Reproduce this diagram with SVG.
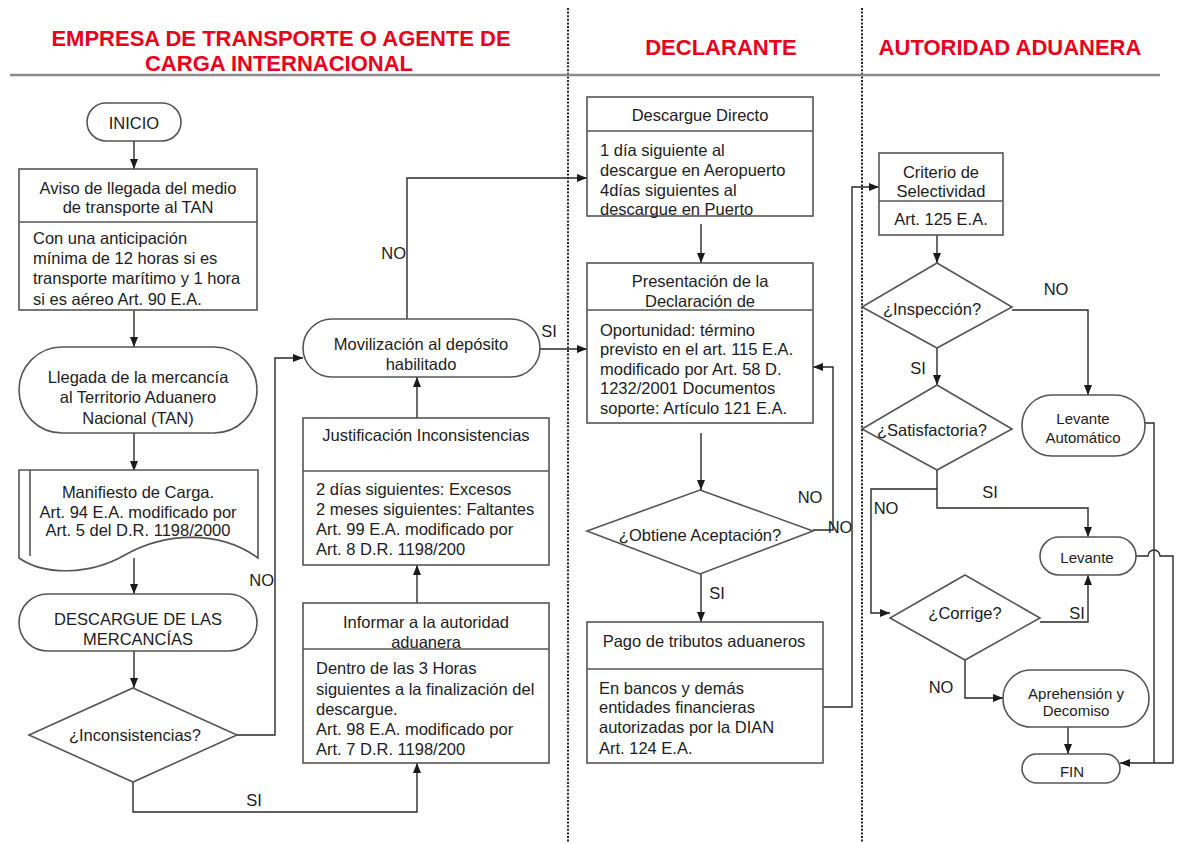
<svg xmlns="http://www.w3.org/2000/svg" width="1183" height="843" viewBox="0 0 1183 843">
<defs>
<marker id="arr" markerUnits="userSpaceOnUse" markerWidth="10" markerHeight="8" refX="10" refY="4" orient="auto">
<path d="M0,0 L10,4 L0,8 Z" fill="#1a1a1a"/>
</marker>
<style>
text{font-family:"Liberation Sans",Arial,sans-serif;font-size:16.5px;fill:#1c1c22;dominant-baseline:central}
.c{text-anchor:middle}
.sm{font-size:15px}
.h{font-family:"Liberation Sans",Arial,sans-serif;font-weight:bold;font-size:22px;fill:#e8001c;text-anchor:middle;dominant-baseline:auto}
.n{fill:#fff;stroke:#555;stroke-width:1.6}
.d{stroke:#555;stroke-width:1.6;fill:none}
.e{fill:none;stroke:#2a2a2a;stroke-width:1.4}
.ea{fill:none;stroke:#2a2a2a;stroke-width:1.4;marker-end:url(#arr)}
.lane{stroke:#222;stroke-width:2;stroke-dasharray:2 1.6}
</style>
</defs>
<rect width="1183" height="843" fill="#fff"/>
<g id="lanes">
<line class="lane" x1="568" y1="8" x2="568" y2="843"/>
<line class="lane" x1="862" y1="8" x2="862" y2="843"/>
<line x1="10" y1="75" x2="1160" y2="75" stroke="#8a8a8a" stroke-width="2.5"/>
<text class="h" x="281" y="46">EMPRESA DE TRANSPORTE O AGENTE DE</text>
<text class="h" x="279" y="71">CARGA INTERNACIONAL</text>
<text class="h" x="721" y="55">DECLARANTE</text>
<text class="h" x="1010" y="55">AUTORIDAD ADUANERA</text>
</g>
<g id="connectors">
<path class="ea" d="M134,141 V169"/>
<path class="ea" d="M134,310 V347"/>
<path class="ea" d="M134,433 V471"/>
<path class="ea" d="M134,558 V594"/>
<path class="ea" d="M134,651 V688"/>
<path class="ea" d="M237,735 H275 V358 H303"/>
<text x="274" y="580" style="text-anchor:end">NO</text>
<path class="ea" d="M133,782 V812 H417 V763"/>
<text class="c" x="254" y="800">SI</text>
<path class="ea" d="M417,603 V565"/>
<path class="ea" d="M417,418 V377"/>
<path class="ea" d="M407,319 V178 H587"/>
<text x="406" y="253" style="text-anchor:end">NO</text>
<path class="ea" d="M540,349 H587"/>
<text class="c" x="549" y="331">SI</text>
<path class="ea" d="M701,224 V263"/>
<path class="ea" d="M701,433 V490"/>
<path class="ea" d="M813,530 H833 V367 H813"/>
<text class="c" x="810" y="497">NO</text>
<text class="c" x="840" y="527">NO</text>
<path class="ea" d="M701,574 V622"/>
<text class="c" x="717" y="593">SI</text>
<path class="ea" d="M823,707 H852 V187 H879"/>
<path class="ea" d="M937,235 V263"/>
<path class="ea" d="M1012,310 H1088 V395"/>
<text class="c" x="1056" y="289">NO</text>
<path class="ea" d="M937,348 V385"/>
<text class="c" x="918" y="368">SI</text>
<path class="ea" d="M937,470 V508 H1088 V537"/>
<text class="c" x="990" y="492">SI</text>
<path class="ea" d="M937,489 H871 V613 H890"/>
<text class="c" x="886" y="508">NO</text>
<path class="ea" d="M1040,622 H1088 V575"/>
<text class="c" x="1077" y="613">SI</text>
<path class="ea" d="M965,660 V698 H1003"/>
<text class="c" x="941" y="687">NO</text>
<path class="ea" d="M1068,727 V754"/>
<path class="ea" d="M1145,423 H1154 V763 H1120"/>
<path class="e" d="M1136,556 H1148 A6,6 0 0 1 1160,556 H1173 V763 H1154"/>
</g>
<g id="inicio">
<rect class="n" x="87" y="103" width="94" height="38" rx="19"/>
<text class="c" x="134" y="123">INICIO</text>
</g>
<g id="aviso">
<rect class="n" x="19" y="169" width="238" height="141"/>
<line class="d" x1="19" y1="222" x2="257" y2="222"/>
<text class="c" x="138" y="188">Aviso de llegada del medio</text>
<text class="c" x="138" y="207">de transporte al TAN</text>
<text x="33" y="238">Con una anticipación</text>
<text x="33" y="258">mínima de 12 horas si es</text>
<text x="33" y="278">transporte marítimo y 1 hora</text>
<text x="33" y="299">si es aéreo Art. 90 E.A.</text>
</g>
<g id="llegada">
<rect class="n" x="19" y="347" width="238" height="86" rx="43"/>
<text class="c" x="138" y="377">Llegada de la mercancía</text>
<text class="c" x="138" y="397">al Territorio Aduanero</text>
<text class="c" x="138" y="418">Nacional (TAN)</text>
</g>
<g id="manifiesto">
<path class="n" d="M19,470 H258 V558 C220,530 165,532 125,555 C90,575 45,576 19,558 Z"/>
<line class="d" x1="30" y1="470" x2="30" y2="556"/>
<text class="c" x="138" y="492">Manifiesto de Carga.</text>
<text class="c" x="138" y="512">Art. 94 E.A. modificado por</text>
<text class="c" x="138" y="530">Art. 5 del D.R. 1198/2000</text>
</g>
<g id="descargue">
<rect class="n" x="19" y="594" width="238" height="57" rx="28.5"/>
<text class="c" x="138" y="619">DESCARGUE DE LAS</text>
<text class="c" x="138" y="639">MERCANCÍAS</text>
</g>
<g id="inconsistencias">
<polygon class="n" points="133,688 237,735 133,782 29,735"/>
<text class="c" x="135" y="735">¿Inconsistencias?</text>
</g>
<g id="movilizacion">
<rect class="n" x="303" y="319" width="237" height="58" rx="29"/>
<text class="c" x="421" y="344">Movilización al depósito</text>
<text class="c" x="421" y="364">habilitado</text>
</g>
<g id="justificacion">
<rect class="n" x="303" y="418" width="246" height="147"/>
<line class="d" x1="303" y1="471" x2="549" y2="471"/>
<text class="c" x="426" y="435">Justificación Inconsistencias</text>
<text x="316" y="489">2 días siguientes: Excesos</text>
<text x="316" y="509">2 meses siguientes: Faltantes</text>
<text x="316" y="529">Art. 99 E.A. modificado por</text>
<text x="316" y="549">Art. 8 D.R. 1198/200</text>
</g>
<g id="informar">
<rect class="n" x="303" y="603" width="246" height="160"/>
<line class="d" x1="303" y1="649" x2="549" y2="649"/>
<text class="c" x="426" y="622">Informar a la autoridad</text>
<text class="c" x="426" y="642">aduanera</text>
<text x="316" y="668">Dentro de las 3 Horas</text>
<text x="316" y="689">siguientes a la finalización del</text>
<text x="316" y="709">descargue.</text>
<text x="316" y="729">Art. 98 E.A. modificado por</text>
<text x="316" y="749">Art. 7 D.R. 1198/200</text>
</g>
<g id="descargue-directo">
<rect class="n" x="587" y="97" width="226" height="119"/>
<line class="d" x1="587" y1="131" x2="813" y2="131"/>
<text class="c" x="700" y="115">Descargue Directo</text>
<text x="600" y="150">1 día siguiente al</text>
<text x="600" y="170">descargue en Aeropuerto</text>
<text x="600" y="190">4días siguientes al</text>
<text x="600" y="209">descargue en Puerto</text>
</g>
<g id="presentacion">
<rect class="n" x="587" y="263" width="226" height="160"/>
<line class="d" x1="587" y1="310" x2="813" y2="310"/>
<text class="c" x="700" y="281">Presentación de la</text>
<text class="c" x="700" y="301">Declaración de</text>
<text x="600" y="330">Oportunidad: término</text>
<text x="600" y="349">previsto en el art. 115 E.A.</text>
<text x="600" y="369">modificado por Art. 58 D.</text>
<text x="600" y="388">1232/2001 Documentos</text>
<text x="600" y="408">soporte: Artículo 121 E.A.</text>
</g>
<g id="obtiene">
<polygon class="n" points="700,490 813,531 700,574 587,531"/>
<text class="c" x="700" y="535">¿Obtiene Aceptación?</text>
</g>
<g id="pago">
<rect class="n" x="587" y="622" width="236" height="141"/>
<line class="d" x1="587" y1="669" x2="823" y2="669"/>
<text class="c" x="704" y="641">Pago de tributos aduaneros</text>
<text x="599" y="688">En bancos y demás</text>
<text x="599" y="707">entidades financieras</text>
<text x="599" y="727">autorizadas por la DIAN</text>
<text x="599" y="748">Art. 124 E.A.</text>
</g>
<g id="criterio">
<rect class="n" x="879" y="153" width="124" height="82"/>
<line class="d" x1="879" y1="201" x2="1003" y2="201"/>
<text class="c" x="941" y="172">Criterio de</text>
<text class="c" x="941" y="191">Selectividad</text>
<text class="c" x="941" y="219">Art. 125 E.A.</text>
</g>
<g id="inspeccion">
<polygon class="n" points="937,263 1012,307 937,348 862,307"/>
<text class="c" x="932" y="309">¿Inspección?</text>
</g>
<g id="satisfactoria">
<polygon class="n" points="937,385 1012,429 937,470 862,429"/>
<text class="c" x="932" y="430">¿Satisfactoria?</text>
</g>
<g id="levante-automatico">
<rect class="n" x="1022" y="395" width="123" height="61" rx="30"/>
<text class="c sm" x="1083" y="418">Levante</text>
<text class="c sm" x="1083" y="437">Automático</text>
</g>
<g id="levante">
<rect class="n" x="1040" y="537" width="96" height="38" rx="19"/>
<text class="c sm" x="1087" y="557">Levante</text>
</g>
<g id="corrige">
<polygon class="n" points="965,575 1040,618 965,660 890,618"/>
<text class="c" x="965" y="613">¿Corrige?</text>
</g>
<g id="aprehension">
<rect class="n" x="1003" y="670" width="146" height="57" rx="28"/>
<text class="c sm" x="1076" y="693">Aprehensión y</text>
<text class="c sm" x="1076" y="710">Decomiso</text>
</g>
<g id="fin">
<rect class="n" x="1022" y="754" width="98" height="29" rx="14.5"/>
<text class="c sm" x="1072" y="771">FIN</text>
</g>
</svg>
